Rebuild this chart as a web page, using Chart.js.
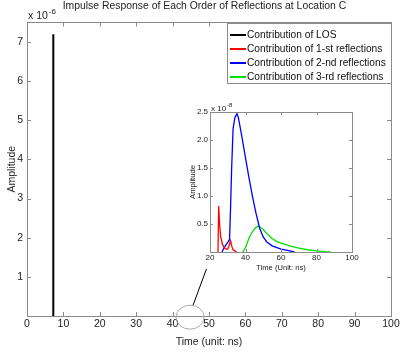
<!DOCTYPE html>
<html>
<head>
<meta charset="utf-8">
<script src="https://cdn.jsdelivr.net/npm/chart.js@4/dist/chart.umd.min.js"></script>
<style>
  html, body { margin: 0; padding: 0; background: #fff; }
  #wrap { position: relative; width: 409px; height: 354px; }
  #mainChart { position: absolute; left: 0; top: 0; }
  #insetChart { position: absolute; left: 176px; top: 100px; }
</style>
</head>
<body>
<div id="wrap">
  <canvas id="mainChart" width="409" height="354"></canvas>
  <canvas id="insetChart" width="184" height="172"></canvas>
</div>
<script>
// amplitudes in units of 1e-6 (main) and 1e-8 (inset)
const losTime = [7.15, 7.2, 7.25];
const losAmp = [0, 7.2, 0];

const firstTime = [24.5, 24.9, 25.4, 26, 27, 28, 29, 30, 30.8, 31.6, 32.3, 33, 34, 35];
const firstAmp = [0, 0.82, 0.5, 0.28, 0.14, 0.08, 0.05, 0.05, 0.12, 0.2, 0.1, 0.04, 0.02, 0];

const secondTime = [26.7, 28, 29.5, 31, 31.6, 32.2, 33, 34, 35.2, 36, 38, 40, 42, 44, 46, 48, 50, 52, 55, 60, 65, 67.6];
const secondAmp = [0, 0.08, 0.15, 0.22, 0.8, 1.5, 2.2, 2.4, 2.47, 2.4, 2.05, 1.68, 1.32, 0.98, 0.68, 0.42, 0.27, 0.18, 0.11, 0.05, 0.02, 0];

const thirdTime = [38.5, 40, 42, 44, 46, 47, 48, 50, 52, 55, 57, 60, 65, 70, 75, 80, 85, 88];
const thirdAmp = [0, 0.08, 0.25, 0.37, 0.44, 0.46, 0.45, 0.4, 0.33, 0.24, 0.2, 0.16, 0.11, 0.07, 0.04, 0.02, 0.005, 0];

const mainXTicks = [0, 10, 20, 30, 40, 50, 60, 70, 80, 90, 100];
const mainYTicks = [1, 2, 3, 4, 5, 6, 7];
const insetXTicks = [20, 40, 60, 80, 100];
const insetYTicks = [0.5, 1, 1.5, 2, 2.5];

const seriesNames = ['Contribution of LOS', 'Contribution of 1-st reflections',
  'Contribution of 2-nd reflections', 'Contribution of 3-rd reflections'];
const seriesColors = ['#000000', '#ff0000', '#0000ff', '#00e000'];

const FONT = 'Liberation Sans, Arial, sans-serif';

function pts(xs, ys) {
  return xs.map((x, i) => ({ x: x, y: ys[i] }));
}

// MATLAB-like box with inward ticks
const boxTicks = {
  id: 'boxTicks',
  afterDraw(chart, args, opts) {
    const ctx = chart.ctx;
    const a = chart.chartArea;
    const len = opts.len || 4;
    ctx.save();
    ctx.strokeStyle = '#8a8a8a';
    ctx.lineWidth = 1;
    ctx.strokeRect(Math.round(a.left) + 0.5, Math.round(a.top) + 0.5,
      Math.round(a.right - a.left), Math.round(a.bottom - a.top));
    ctx.beginPath();
    chart.scales.x.ticks.forEach(t => {
      const px = Math.round(chart.scales.x.getPixelForValue(t.value)) + 0.5;
      ctx.moveTo(px, a.bottom); ctx.lineTo(px, a.bottom - len);
      ctx.moveTo(px, a.top); ctx.lineTo(px, a.top + len);
    });
    chart.scales.y.ticks.forEach(t => {
      const py = Math.round(chart.scales.y.getPixelForValue(t.value)) + 0.5;
      ctx.moveTo(a.left, py); ctx.lineTo(a.left + len, py);
      ctx.moveTo(a.right, py); ctx.lineTo(a.right - len, py);
    });
    ctx.stroke();
    // exponent label
    ctx.fillStyle = '#222';
    ctx.font = opts.font;
    ctx.textBaseline = 'alphabetic';
    ctx.fillText('x 10', a.left + opts.expDx, a.top - opts.expDy);
    const w = ctx.measureText('x 10').width;
    ctx.font = opts.supFont;
    ctx.fillText(opts.exp, a.left + opts.expDx + w + 1, a.top - opts.expDy - opts.supRise);
    ctx.restore();
  }
};

// legend box + callout ellipse on the main chart
const mainExtras = {
  id: 'mainExtras',
  afterDraw(chart) {
    const ctx = chart.ctx;
    const xs = chart.scales.x, ys = chart.scales.y;
    ctx.save();
    // callout
    const cx = xs.getPixelForValue(44.8), cy = ys.getPixelForValue(-0.03);
    ctx.strokeStyle = '#aaaaaa';
    ctx.lineWidth = 1;
    ctx.beginPath();
    ctx.ellipse(cx, cy, 14, 12, 0, 0, Math.PI * 2);
    ctx.stroke();
    ctx.strokeStyle = '#000';
    ctx.beginPath();
    ctx.moveTo(cx + 3, cy - 12);
    ctx.lineTo(xs.getPixelForValue(49.3), ys.getPixelForValue(1.2));
    ctx.stroke();
    // legend
    const lx = 227, ly = 23, lw = 164, lh = 60;
    ctx.fillStyle = '#fff';
    ctx.fillRect(lx, ly, lw, lh);
    ctx.strokeStyle = '#8a8a8a';
    ctx.strokeRect(lx + 0.5, ly + 0.5, lw, lh);
    ctx.font = '10.2px ' + FONT;
    ctx.textBaseline = 'middle';
    seriesNames.forEach((name, i) => {
      const y = ly + 12 + i * 14;
      ctx.strokeStyle = seriesColors[i];
      ctx.lineWidth = 2;
      ctx.beginPath();
      ctx.moveTo(lx + 3, y); ctx.lineTo(lx + 19, y);
      ctx.stroke();
      ctx.fillStyle = '#111';
      ctx.fillText(name, lx + 20, y);
    });
    ctx.restore();
  }
};

function lineSet(i, data, width) {
  return {
    label: seriesNames[i],
    data: data,
    borderColor: seriesColors[i],
    backgroundColor: seriesColors[i],
    borderWidth: width,
    pointRadius: 0,
    tension: 0
  };
}

new Chart(document.getElementById('mainChart'), {
  type: 'line',
  data: {
    datasets: [
      lineSet(0, pts(losTime, losAmp), 2)
    ]
  },
  options: {
    responsive: false,
    animation: false,
    layout: { padding: 0 },
    plugins: {
      legend: { display: false },
      tooltip: { enabled: false },
      title: {
        display: true,
        text: 'Impulse Response of Each Order of Reflections at Location C',
        color: '#222',
        font: { family: FONT, size: 10.4, weight: 'normal' },
        padding: { top: 0, bottom: 10 }
      },
      boxTicks: { len: 4, font: '10.5px ' + FONT, supFont: '8px ' + FONT, exp: '-6', expDx: 1, expDy: 3, supRise: 5 }
    },
    scales: {
      x: {
        type: 'linear', min: 0, max: 100,
        afterBuildTicks: s => { s.ticks = mainXTicks.map(v => ({ value: v })); },
        afterFit: s => { s.height = 38; },
        grid: { display: false, drawTicks: false }, border: { display: false },
        ticks: { color: '#222', font: { family: FONT, size: 10.5 }, padding: 2, maxRotation: 0 },
        title: { display: true, text: 'Time (unit: ns)', color: '#222', font: { family: FONT, size: 10.5 }, padding: { top: 3, bottom: 6 } }
      },
      y: {
        type: 'linear', min: 0, max: 7.5,
        afterBuildTicks: s => { s.ticks = mainYTicks.map(v => ({ value: v })); },
        afterFit: s => { s.width = 27; },
        grid: { display: false, drawTicks: false }, border: { display: false },
        ticks: { color: '#222', font: { family: FONT, size: 10.5 }, padding: 4 },
        title: { display: true, text: 'Amplitude', color: '#222', font: { family: FONT, size: 10.5 }, padding: { top: 6, bottom: 0 } }
      },
      // empty right axis, only reserves the right margin
      yRight: {
        type: 'linear', position: 'right', min: 0, max: 7.5,
        afterFit: s => { s.width = 18; },
        grid: { display: false, drawTicks: false }, border: { display: false },
        ticks: { display: false }
      }
    }
  },
  plugins: [boxTicks, mainExtras]
});

const insetBg = {
  id: 'insetBg',
  beforeDraw(chart) {
    const a = chart.chartArea;
    chart.ctx.save();
    chart.ctx.fillStyle = '#fff';
    chart.ctx.fillRect(a.left, a.top, a.right - a.left, a.bottom - a.top);
    chart.ctx.restore();
  }
};

new Chart(document.getElementById('insetChart'), {
  type: 'line',
  data: {
    datasets: [
      lineSet(1, pts(firstTime, firstAmp), 1.3),
      lineSet(2, pts(secondTime, secondAmp), 1.3),
      lineSet(3, pts(thirdTime, thirdAmp), 1.3)
    ]
  },
  options: {
    responsive: false,
    animation: false,
    layout: { padding: { left: 0, right: 8, top: 12, bottom: 0 } },
    plugins: {
      legend: { display: false },
      tooltip: { enabled: false },
      boxTicks: { len: 3, font: '8px ' + FONT, supFont: '6px ' + FONT, exp: '-8', expDx: 1, expDy: 1, supRise: 4 }
    },
    scales: {
      x: {
        type: 'linear', min: 20, max: 100,
        afterBuildTicks: s => { s.ticks = insetXTicks.map(v => ({ value: v })); },
        afterFit: s => { s.height = 20; },
        grid: { display: false, drawTicks: false }, border: { display: false },
        ticks: { color: '#222', font: { family: FONT, size: 8 }, padding: 1, maxRotation: 0 },
        title: { display: true, text: 'Time (Unit: ns)', color: '#222', font: { family: FONT, size: 7.6 }, padding: 0 }
      },
      y: {
        type: 'linear', min: 0, max: 2.5,
        afterBuildTicks: s => { s.ticks = insetYTicks.map(v => ({ value: v })); },
        afterFit: s => { s.width = 34; },
        grid: { display: false, drawTicks: false }, border: { display: false },
        ticks: { color: '#222', font: { family: FONT, size: 8 }, padding: 2 },
        title: { display: true, text: 'Amplitude', color: '#222', font: { family: FONT, size: 7.6 }, padding: { top: 12, bottom: 0 } }
      }
    }
  },
  plugins: [insetBg, boxTicks]
});
</script>
</body>
</html>
